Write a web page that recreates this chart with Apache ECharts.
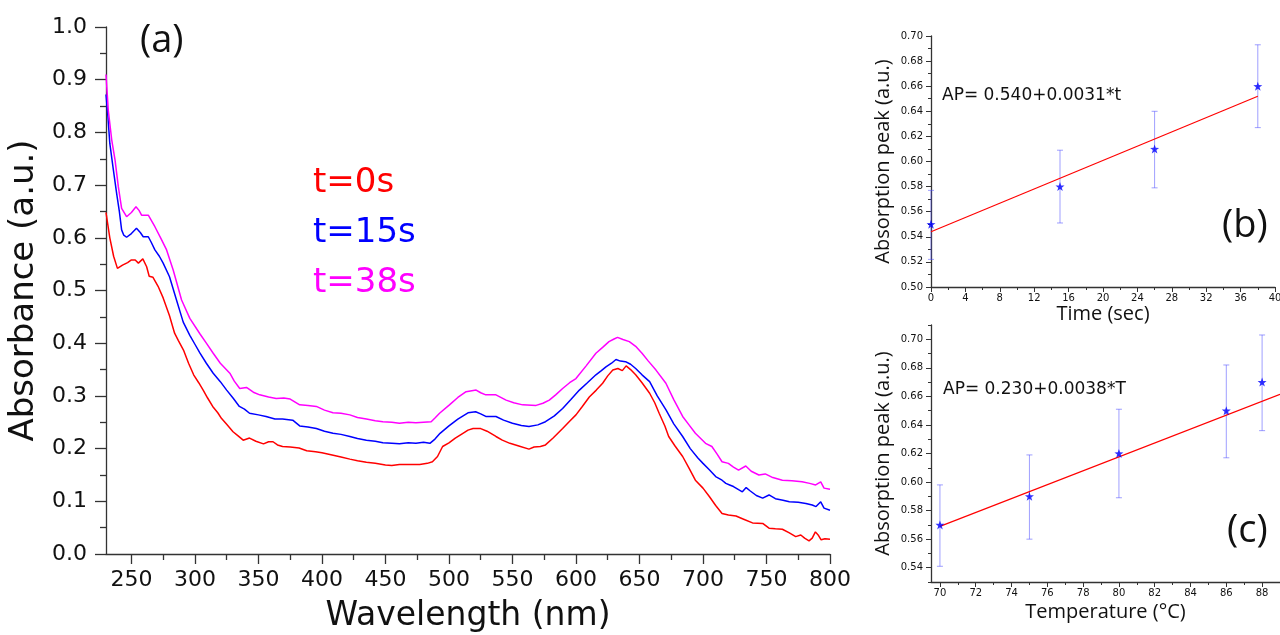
<!DOCTYPE html>
<html>
<head>
<meta charset="utf-8">
<script src="https://cdn.jsdelivr.net/npm/echarts@6/dist/echarts.min.js"></script>
<style>html,body{margin:0;padding:0;background:#fff}#c{width:1280px;height:635px}</style>
</head>
<body>
<div id="c"></div>
<script>
// ---------- Data ----------
const seriesNames = ['t=0s', 't=15s', 't=38s'];
const spectrumT0 = [[230,0.648],[233,0.600],[236,0.565],[239,0.542],[243,0.548],[247,0.553],[250,0.558],[253,0.558],[255.5,0.552],[259,0.560],[262,0.545],[264,0.527],[267,0.525],[271,0.508],[275,0.486],[280,0.452],[284,0.419],[287,0.405],[291,0.387],[295,0.362],[299,0.340],[303,0.325],[306.5,0.311],[310,0.296],[314,0.280],[318,0.268],[321,0.257],[325,0.246],[330,0.232],[334,0.224],[338,0.216],[343,0.220],[348,0.214],[354,0.209],[358,0.213],[361.5,0.213],[365,0.207],[369,0.204],[375,0.203],[382,0.201],[388,0.196],[395,0.194],[400,0.192],[408,0.188],[415,0.184],[422,0.180],[428,0.177],[435,0.174],[442,0.172],[450,0.169],[455,0.168],[461,0.170],[468,0.170],[477,0.170],[483,0.172],[487,0.175],[491,0.185],[495,0.204],[500,0.211],[505,0.220],[511,0.229],[515,0.235],[519,0.238],[525,0.238],[530,0.233],[537,0.223],[542,0.216],[548,0.210],[555,0.205],[563,0.199],[567,0.203],[572,0.204],[576,0.207],[582,0.220],[589.5,0.238],[595,0.252],[600,0.264],[605,0.280],[610.5,0.298],[616,0.311],[621,0.324],[625,0.338],[629,0.349],[633,0.352],[636.5,0.348],[639.5,0.357],[643,0.350],[647,0.340],[652,0.325],[658,0.305],[662,0.287],[665.5,0.267],[670,0.243],[673,0.223],[678,0.205],[684,0.185],[689,0.163],[694,0.140],[700,0.125],[705,0.109],[710,0.092],[715,0.077],[720,0.074],[726,0.072],[732,0.066],[739,0.059],[747,0.058],[752,0.049],[757,0.048],[762.5,0.047],[768,0.040],[773,0.033],[777,0.036],[780,0.030],[783.5,0.025],[786,0.030],[788.5,0.042],[791,0.035],[793,0.027],[796,0.029],[800,0.028]];
const spectrumT15 = [[230,0.872],[231.5,0.830],[233,0.779],[235.8,0.729],[238.4,0.684],[240.5,0.650],[242.3,0.615],[244,0.605],[246.2,0.601],[250,0.608],[254,0.618],[257,0.610],[259.3,0.602],[263.3,0.602],[265.5,0.592],[268.5,0.577],[272,0.565],[275,0.552],[280,0.526],[285.5,0.482],[290.8,0.440],[296,0.415],[300,0.398],[304,0.381],[309,0.362],[314.4,0.343],[320,0.327],[325,0.311],[330,0.296],[335,0.280],[339,0.275],[343,0.267],[350,0.264],[356,0.261],[363,0.256],[369,0.256],[377,0.254],[382.5,0.243],[389,0.241],[395.6,0.238],[402,0.233],[408.7,0.229],[415,0.227],[422,0.223],[428,0.219],[435,0.216],[442,0.214],[448,0.211],[455,0.210],[461,0.209],[468,0.211],[474,0.210],[480,0.212],[485,0.210],[489,0.218],[493,0.229],[500,0.243],[507,0.256],[515,0.268],[521,0.270],[525,0.266],[529,0.261],[537,0.261],[543,0.254],[550,0.248],[557,0.244],[563,0.242],[570,0.245],[576,0.251],[583,0.262],[589.5,0.276],[596,0.293],[602.7,0.311],[609,0.325],[615.7,0.340],[620,0.348],[623.6,0.355],[628,0.362],[631.5,0.369],[635,0.366],[639,0.365],[643,0.360],[647,0.352],[652,0.340],[658,0.327],[664,0.300],[671,0.273],[677,0.247],[684,0.223],[690,0.200],[696,0.182],[700,0.172],[705,0.160],[710,0.147],[715,0.140],[718,0.134],[721,0.131],[724,0.128],[728,0.122],[731,0.118],[734,0.126],[737,0.120],[742,0.111],[747,0.106],[752,0.112],[757,0.105],[763,0.102],[768,0.099],[775,0.098],[781,0.096],[786,0.093],[789,0.090],[792.7,0.099],[795.3,0.087],[800,0.083]];
const spectrumT38 = [[230,0.910],[231.8,0.842],[234.5,0.786],[237.1,0.748],[239.7,0.697],[242.3,0.656],[246.2,0.640],[250,0.648],[253.6,0.659],[256,0.652],[258,0.643],[263.3,0.643],[268.5,0.621],[273,0.600],[277.7,0.577],[282.9,0.539],[289.5,0.482],[296,0.447],[303.9,0.418],[309,0.400],[314.4,0.381],[320,0.362],[327.5,0.343],[331,0.328],[335.3,0.314],[340.6,0.316],[346,0.307],[351,0.302],[358,0.298],[364,0.295],[370,0.296],[375,0.294],[382.5,0.283],[389,0.282],[395.6,0.280],[402,0.273],[408.7,0.268],[415,0.267],[422,0.264],[428,0.259],[435,0.256],[442,0.253],[448,0.251],[455,0.250],[461,0.248],[468,0.250],[474,0.249],[480,0.250],[486,0.251],[489,0.258],[492.6,0.267],[500.4,0.283],[507,0.297],[513.5,0.308],[521.4,0.311],[525,0.306],[529,0.302],[537,0.302],[545,0.292],[551,0.287],[558,0.283],[568.6,0.282],[574,0.286],[579,0.292],[584,0.302],[589.5,0.314],[595,0.325],[600,0.333],[608,0.357],[615.7,0.381],[621,0.392],[626,0.403],[630,0.408],[632.7,0.411],[637,0.407],[642,0.403],[647,0.394],[652,0.381],[657,0.366],[663,0.349],[670.8,0.324],[677,0.293],[684,0.261],[689,0.245],[694,0.229],[702,0.210],[707,0.204],[711,0.190],[715,0.175],[720,0.172],[724,0.165],[728,0.159],[733.7,0.167],[738,0.157],[744,0.150],[749,0.152],[755,0.145],[762.5,0.140],[770,0.139],[778,0.137],[784,0.134],[788.7,0.131],[792.7,0.137],[795.3,0.125],[800,0.123]];

// Panel (b): absorption peak vs time
const timeB = [0, 15, 26, 38];
const peakB = [0.55, 0.58, 0.61, 0.66];
const errLowB = [0.522, 0.551, 0.579, 0.627];
const errHighB = [0.577, 0.609, 0.640, 0.693];
const fitB = [[0, 0.544], [38, 0.652]];
const equationB = 'AP= 0.540+0.0031*t';

// Panel (c): absorption peak vs temperature
const tempC = [70, 75, 80, 86, 88];
const peakC = [0.57, 0.59, 0.62, 0.65, 0.67];
const errLowC = [0.541, 0.560, 0.589, 0.617, 0.636];
const errHighC = [0.598, 0.619, 0.651, 0.682, 0.703];
const fitC = [[70, 0.569], [89, 0.6615]];
const equationC = 'AP= 0.230+0.0038*T';

// Tick values
const mainXMajor = [250,300,350,400,450,500,550,600,650,700,750,800];
const mainXMinor = [275,325,375,425,475,525,575,625,675,725,775];
const cXMajor = [70,72,74,76,78,80,82,84,86,88];
const cXMinor = [71,73,75,77,79,81,83,85,87,89];
const cYMajor = [0.54,0.56,0.58,0.60,0.62,0.64,0.66,0.68,0.70];
const cYMinor = [0.53,0.55,0.57,0.59,0.61,0.63,0.65,0.67,0.69,0.71];

// ---------- Chart ----------
const AX = '#333';
const NUMF = 'DejaVu Sans';
const TITF = 'Open Sans';
const STAR = 'path://M0,-10L2.35,-3.24L9.51,-3.09L3.8,1.24L5.88,8.09L0,4L-5.88,8.09L-3.8,1.24L-9.51,-3.09L-2.35,-3.24Z';

function errData(xs, lo, hi){ return xs.map((x,i)=>[x, lo[i], hi[i]]); }
function pts(xs, ys){ return xs.map((x,i)=>[x, ys[i]]); }
function errRender(params, api){
  const x = api.value(0), lo = api.value(1), hi = api.value(2);
  const a = api.coord([x, lo]), b = api.coord([x, hi]);
  const w = 3, st = {stroke: 'rgba(80,80,255,0.55)', lineWidth: 1};
  return {type:'group', children:[
    {type:'line', shape:{x1:a[0],y1:a[1],x2:b[0],y2:b[1]}, style:st},
    {type:'line', shape:{x1:a[0]-w,y1:a[1],x2:a[0]+w,y2:a[1]}, style:st},
    {type:'line', shape:{x1:b[0]-w,y1:b[1],x2:b[0]+w,y2:b[1]}, style:st}
  ]};
}
const lineAx = {show:true, lineStyle:{color:AX, width:1.3}};

const option = {
  animation: false,
  backgroundColor: '#fff',
  grid: [
    {left:106, right:450, top:27, bottom:81, containLabel:false, outerBoundsMode:'none'},
    {left:931, right:5, top:36, bottom:348, containLabel:false, outerBoundsMode:'none'},
    {left:931, right:0, top:325, bottom:53, containLabel:false, outerBoundsMode:'none'}
  ],
  xAxis: [
    {gridIndex:0, type:'value', position:'bottom', min:230, max:800, axisLine:lineAx,
     axisTick:{show:true, length:10, customValues:mainXMajor, lineStyle:{color:AX, width:1.3}},
     axisLabel:{customValues:mainXMajor, fontSize:22, fontFamily:NUMF, color:'#111', margin:15},
     splitLine:{show:false},
     name:'Wavelength (nm)', nameLocation:'middle', nameGap:46,
     nameTextStyle:{fontSize:33, fontFamily:NUMF, color:'#111'}},
    {gridIndex:0, type:'value', position:'bottom', min:230, max:800, axisLine:{show:false},
     axisTick:{show:true, length:6, customValues:mainXMinor, lineStyle:{color:AX, width:1.3}},
     axisLabel:{show:false}, splitLine:{show:false}},
    {gridIndex:1, type:'value', position:'bottom', min:0, max:40, interval:4, axisLine:lineAx,
     axisTick:{length:5, lineStyle:{color:AX}},
     minorTick:{show:true, splitNumber:2, length:3, lineStyle:{color:AX}},
     axisLabel:{fontSize:10, fontFamily:NUMF, color:'#111', margin:6},
     splitLine:{show:false},
     name:'Time (sec)', nameLocation:'middle', nameGap:13,
     nameTextStyle:{fontSize:20, fontFamily:TITF, color:'#111'}},
    {gridIndex:2, type:'value', position:'bottom', min:69.5, max:89, axisLine:lineAx,
     axisTick:{length:5, customValues:cXMajor, lineStyle:{color:AX}},
     axisLabel:{customValues:cXMajor, fontSize:10, fontFamily:NUMF, color:'#111', margin:6},
     splitLine:{show:false},
     name:'Temperature (°C)', nameLocation:'middle', nameGap:20,
     nameTextStyle:{fontSize:20, fontFamily:TITF, color:'#111'}},
    {gridIndex:2, type:'value', position:'bottom', min:69.5, max:89, axisLine:{show:false},
     axisTick:{length:3, customValues:cXMinor, lineStyle:{color:AX}},
     axisLabel:{show:false}, splitLine:{show:false}}
  ],
  yAxis: [
    {gridIndex:0, type:'value', position:'left', min:0, max:1, interval:0.1, axisLine:lineAx,
     axisTick:{length:11, lineStyle:{color:AX, width:1.3}},
     minorTick:{show:true, splitNumber:2, length:6, lineStyle:{color:AX, width:1.3}},
     axisLabel:{fontSize:22, fontFamily:NUMF, color:'#111', margin:19, formatter:v=>v.toFixed(1)},
     splitLine:{show:false},
     name:'Absorbance (a.u.)', nameLocation:'middle', nameGap:63,
     nameTextStyle:{fontSize:34, fontFamily:NUMF, color:'#111'}},
    {gridIndex:1, type:'value', position:'left', min:0.5, max:0.7, interval:0.02, axisLine:lineAx,
     axisTick:{length:5, lineStyle:{color:AX}},
     minorTick:{show:true, splitNumber:2, length:3, lineStyle:{color:AX}},
     axisLabel:{fontSize:10, fontFamily:NUMF, color:'#111', margin:8, formatter:v=>v.toFixed(2)},
     splitLine:{show:false},
     name:'Absorption peak (a.u.)', nameLocation:'middle', nameGap:38,
     nameTextStyle:{fontSize:20, fontFamily:TITF, color:'#111'}},
    {gridIndex:2, type:'value', position:'left', min:0.53, max:0.71, axisLine:lineAx,
     axisTick:{length:5, customValues:cYMajor, lineStyle:{color:AX}},
     axisLabel:{customValues:cYMajor, fontSize:10, fontFamily:NUMF, color:'#111', margin:8, formatter:v=>v.toFixed(2)},
     splitLine:{show:false},
     name:'Absorption peak (a.u.)', nameLocation:'middle', nameGap:38,
     nameTextStyle:{fontSize:20, fontFamily:TITF, color:'#111'}},
    {gridIndex:2, type:'value', position:'left', min:0.53, max:0.71, axisLine:{show:false},
     axisTick:{length:3, customValues:cYMinor, lineStyle:{color:AX}},
     axisLabel:{show:false}, splitLine:{show:false}}
  ],
  series: [
    {name:seriesNames[0], type:'line', xAxisIndex:0, yAxisIndex:0, data:spectrumT0, showSymbol:false, lineStyle:{color:'#ff0000', width:1.5}, itemStyle:{color:'#ff0000'}},
    {name:seriesNames[1], type:'line', xAxisIndex:0, yAxisIndex:0, data:spectrumT15, showSymbol:false, lineStyle:{color:'#0000ff', width:1.5}, itemStyle:{color:'#0000ff'}},
    {name:seriesNames[2], type:'line', xAxisIndex:0, yAxisIndex:0, data:spectrumT38, showSymbol:false, lineStyle:{color:'#ff00ff', width:1.5}, itemStyle:{color:'#ff00ff'}},
    {type:'custom', xAxisIndex:2, yAxisIndex:1, data:errData(timeB, errLowB, errHighB), encode:{x:0, y:[1,2]}, renderItem:errRender, z:2},
    {type:'line', xAxisIndex:2, yAxisIndex:1, data:fitB, showSymbol:false, lineStyle:{color:'#ff0000', width:1.2}, z:3},
    {type:'scatter', xAxisIndex:2, yAxisIndex:1, data:pts(timeB, peakB), symbol:STAR, symbolSize:9, itemStyle:{color:'#0000ff'}, z:4},
    {type:'custom', xAxisIndex:3, yAxisIndex:2, data:errData(tempC, errLowC, errHighC), encode:{x:0, y:[1,2]}, renderItem:errRender, z:2},
    {type:'line', xAxisIndex:3, yAxisIndex:2, data:fitC, showSymbol:false, lineStyle:{color:'#ff0000', width:1.2}, z:3},
    {type:'scatter', xAxisIndex:3, yAxisIndex:2, data:pts(tempC, peakC), symbol:STAR, symbolSize:9, itemStyle:{color:'#0000ff'}, z:4}
  ],
  graphic: [
    {type:'text', left:140, top:22, style:{text:'(a)', fontSize:38, fontFamily:TITF, fill:'#111'}},
    {type:'text', left:313, top:166, style:{text:seriesNames[0], fontSize:34, fontFamily:NUMF, fill:'#ff0000'}},
    {type:'text', left:313, top:216, style:{text:seriesNames[1], fontSize:34, fontFamily:NUMF, fill:'#0000ff'}},
    {type:'text', left:313, top:266, style:{text:seriesNames[2], fontSize:34, fontFamily:NUMF, fill:'#ff00ff'}},
    {type:'text', left:942, top:87, style:{text:equationB, fontSize:17, fontFamily:NUMF, fill:'#111'}},
    {type:'text', left:943, top:381, style:{text:equationC, fontSize:17, fontFamily:NUMF, fill:'#111'}},
    {type:'text', left:1222, top:207, style:{text:'(b)', fontSize:38, fontFamily:TITF, fill:'#111'}},
    {type:'text', left:1227, top:512, style:{text:'(c)', fontSize:38, fontFamily:TITF, fill:'#111'}}
  ]
};
const chart = echarts.init(document.getElementById('c'), null, {renderer:'canvas'});
chart.setOption(option);
</script>
</body>
</html>
